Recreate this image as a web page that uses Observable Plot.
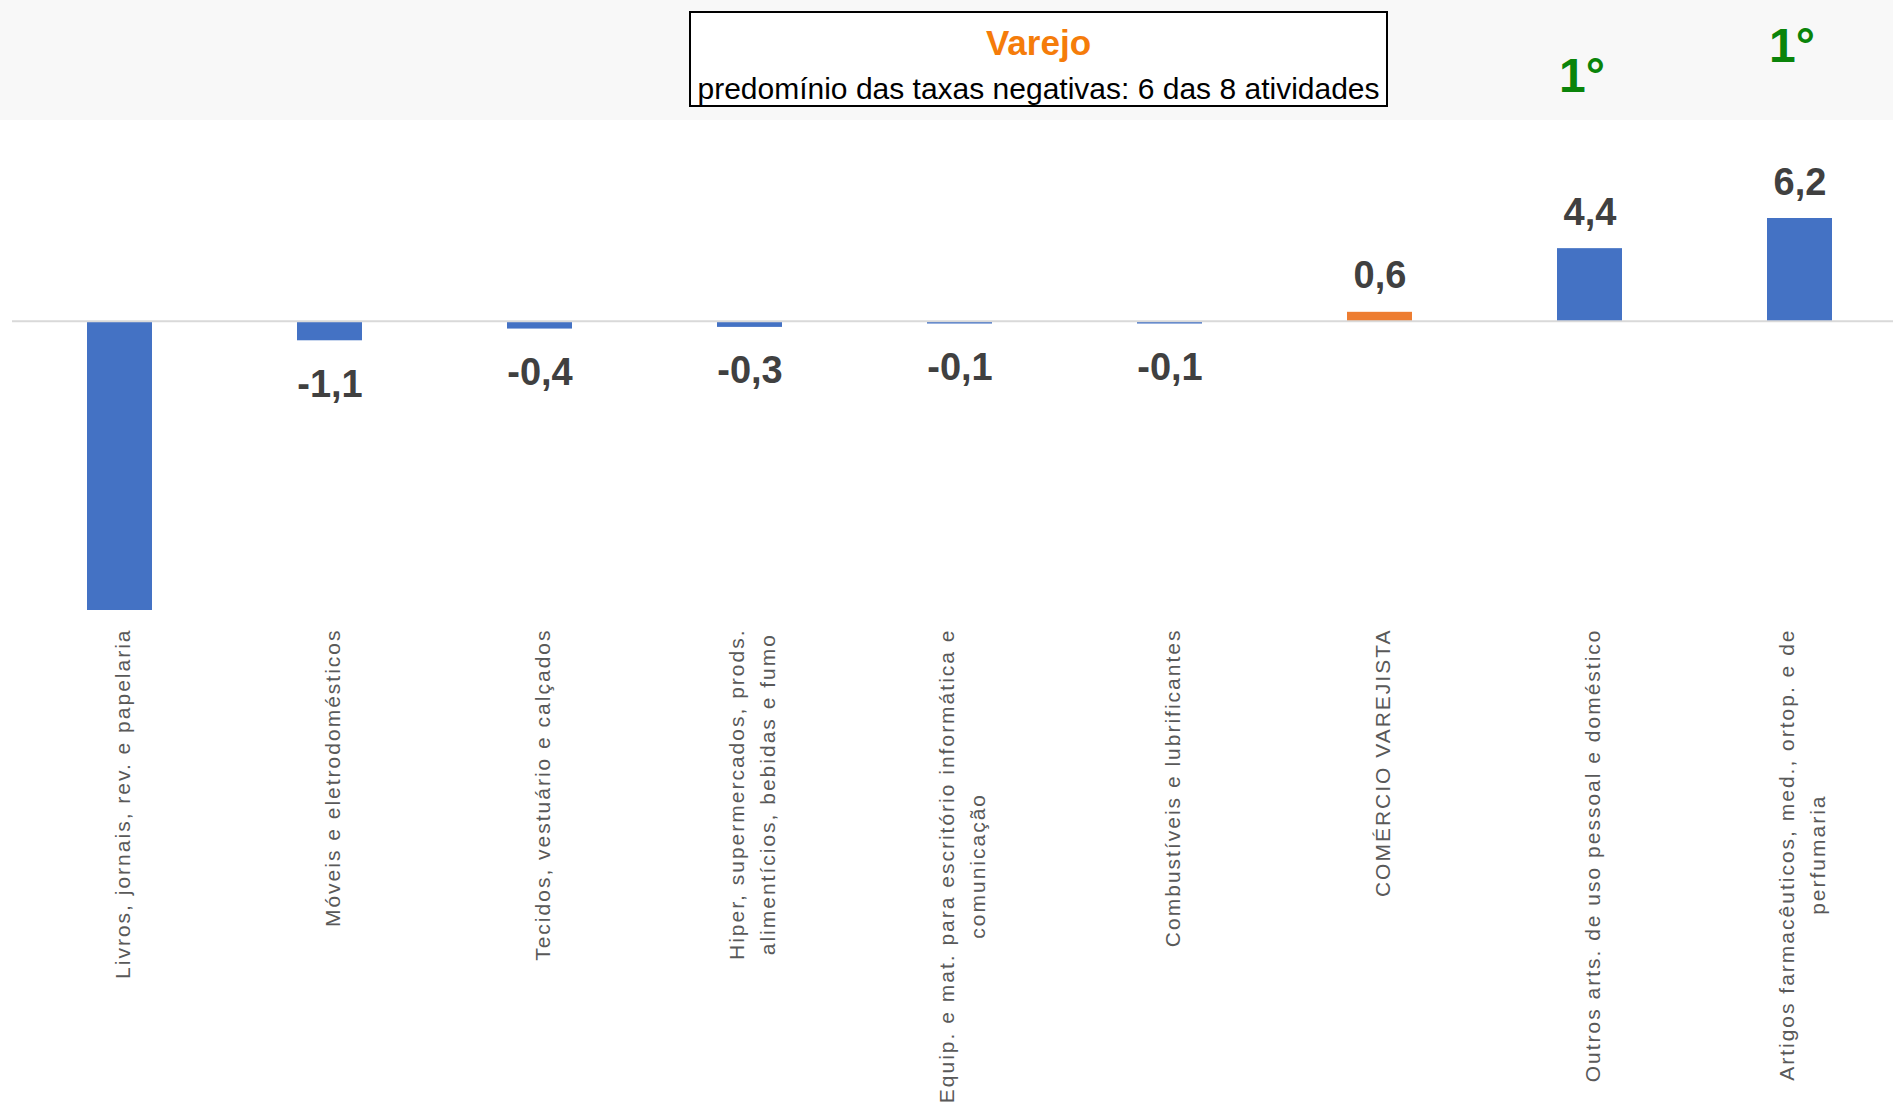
<!DOCTYPE html>
<html>
<head>
<meta charset="utf-8">
<script src="https://cdn.jsdelivr.net/npm/d3@7"></script>
<script src="https://cdn.jsdelivr.net/npm/@observablehq/plot@0.6"></script>
<style>
  html, body { margin: 0; padding: 0; background: #ffffff; }
  #wrap { position: relative; width: 1893px; height: 1117px; overflow: hidden; font-family: "Liberation Sans", Arial, sans-serif; }
  #band { position: absolute; left: 0; top: 0; width: 1893px; height: 120px; background: #f8f8f8; }
  #chart { position: absolute; left: 0; top: 0; }
  #titlebox { position: absolute; left: 689px; top: 11px; width: 695px; height: 92px; border: 2px solid #000; background: #fff; }
  #title { position: absolute; left: 0; right: 0; top: 12.4px; text-align: center; font-weight: bold; font-size: 35px; line-height: 35px; color: #f57c0a; }
  #subtitle { position: absolute; left: 0; right: 0; top: 60.5px; text-align: center; font-size: 30px; line-height: 30px; color: #000; white-space: nowrap; }
  g[aria-label="x-axis tick label"] text { letter-spacing: 2px; }
</style>
</head>
<body>
<div id="wrap">
  <div id="band"></div>
  <div id="chart"></div>
  <div id="titlebox">
    <div id="title">Varejo</div>
    <div id="subtitle">predomínio das taxas negativas: 6 das 8 atividades</div>
  </div>
</div>
<script>
// ---- data ----
const categories = [
  "Livros, jornais, rev. e papelaria",
  "Móveis e eletrodomésticos",
  "Tecidos, vestuário e calçados",
  "Hiper, supermercados, prods.\nalimentícios, bebidas e fumo",
  "Equip. e mat. para escritório informática e\ncomunicação",
  "Combustíveis e lubrificantes",
  "COMÉRCIO VAREJISTA",
  "Outros arts. de uso pessoal e doméstico",
  "Artigos farmacêuticos, med., ortop. e de\nperfumaria"
];
const values = [-17.2, -1.1, -0.4, -0.3, -0.1, -0.1, 0.6, 4.4, 6.2];
const ranks = [null, null, null, null, null, null, null, "1°", "1°"];
const totalCategory = "COMÉRCIO VAREJISTA";
const yMin = -17.2;
const yMax = 6.2;

const data = categories.map((c, i) => ({category: c, value: values[i], rank: ranks[i]}));
const fmt = v => v.toFixed(1).replace(".", ",");

const plot = Plot.plot({
  width: 1893,
  height: 1117,
  marginTop: 218,
  marginBottom: 507,
  marginLeft: 12,
  marginRight: 0,
  style: {background: "transparent", overflow: "visible"},
  x: {domain: categories, range: [13, 1906.6], paddingInner: 0.69, paddingOuter: 0.345, axis: null},
  y: {domain: [yMin, yMax], axis: null},
  marks: [
    Plot.barY(data, {
      x: "category", y: "value",
      fill: d => d.category === totalCategory ? "#ed7d31" : "#4472c4"
    }),
    Plot.ruleY([0], {stroke: "#d9d9d9", strokeWidth: 2, dy: -1}),
    Plot.text(data.filter(d => d.value > 0), {
      x: "category", y: "value", text: d => fmt(d.value),
      lineAnchor: "bottom", dy: -24,
      fontFamily: "'Liberation Sans', Arial, sans-serif",
      fontWeight: "bold", fontSize: 38, fill: "#404040"
    }),
    Plot.text(data.filter(d => d.value < 0 && d.value > yMin), {
      x: "category", y: "value", text: d => fmt(d.value),
      lineAnchor: "top", dy: 29,
      fontFamily: "'Liberation Sans', Arial, sans-serif",
      fontWeight: "bold", fontSize: 38, fill: "#404040"
    }),
    Plot.text(data.filter(d => d.rank), {
      x: "category", y: "value", text: "rank",
      lineAnchor: "middle", dy: -172, dx: -8,
      fontFamily: "'Liberation Sans', Arial, sans-serif",
      fontWeight: "bold", fontSize: 48, fill: "#0a840a"
    }),
    Plot.axisX({
      anchor: "bottom",
      label: null,
      tickSize: 0,
      tickPadding: 18,
      tickRotate: -90,
      fontSize: 21,
      lineHeight: 1.48,
      fill: "#595959",
      fontFamily: "'Liberation Sans', Arial, sans-serif"
    })
  ]
});

document.getElementById("chart").appendChild(plot);

// center multi-line category labels against each other (as in the original)
plot.querySelectorAll('g[aria-label="x-axis tick label"] text').forEach(t => {
  const spans = t.querySelectorAll("tspan");
  if (spans.length > 1) {
    const lens = Array.from(spans, s => s.getComputedTextLength());
    const maxLen = Math.max(...lens);
    spans.forEach(s => {
      s.setAttribute("text-anchor", "middle");
      s.setAttribute("x", -maxLen / 2);
    });
  }
});
</script>
</body>
</html>
